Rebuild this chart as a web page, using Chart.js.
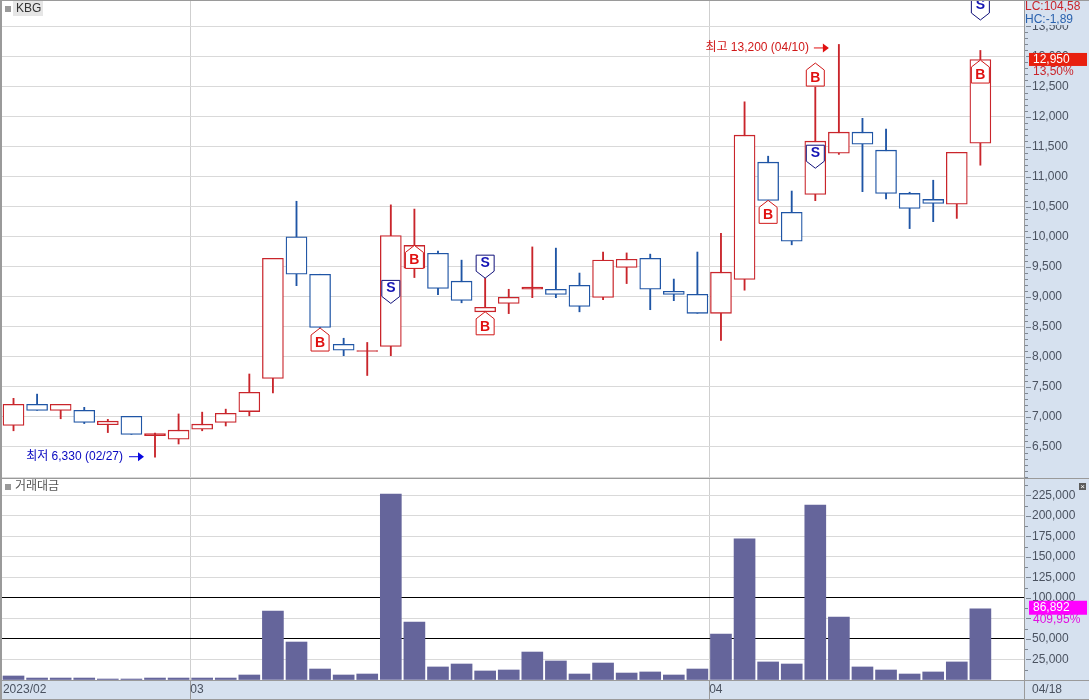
<!DOCTYPE html>
<html>
<head>
<meta charset="utf-8">
<title>KBG</title>
<script src="https://cdn.jsdelivr.net/npm/chart.js@4"></script>
<style>
html, body { margin: 0; padding: 0; background: #fff; overflow: hidden; }
#wrap { position: relative; width: 1089px; height: 700px; }
#priceChart { position: absolute; left: 0; top: 0; }
#volChart { position: absolute; left: 0; top: 478px; }
</style>
</head>
<body>
<div id="wrap">
  <canvas id="priceChart" width="1089" height="478"></canvas>
  <canvas id="volChart" width="1089" height="222"></canvas>
</div>
<script>
var dates = ['02/17','02/20','02/21','02/22','02/23','02/24','02/27','02/28',
  '03/02','03/03','03/06','03/07','03/08','03/09','03/10','03/13','03/14','03/15','03/16','03/17',
  '03/20','03/21','03/22','03/23','03/24','03/27','03/28','03/29','03/30','03/31',
  '04/03','04/04','04/05','04/06','04/07','04/10','04/11','04/12','04/13','04/14','04/17','04/18'];

var opens  = [6860,7210,7110,7110,6870,7010,6690,6630,6795,6910,7090,7640,10000,9375,8210,8090,8175,9475,9725,9260,8750,8890,
              9125,9125,9190,8990,9490,9640,9090,9040,8725,9290,11240,10405,10705,11390,11740,11440,10720,10620,10540,11555];
var closes = [7210,7110,7210,6910,6930,6710,6725,6780,6880,7060,7410,9640,9375,8490,8110,8105,10020,9855,9140,8940,8825,8990,
              9160,9040,8840,9610,9625,9125,9040,8725,9410,11690,10605,9925,11590,11740,11540,10720,10470,10555,11405,12950];
var highs  = [7310,7380,7210,7160,6960,7010,6730,7050,7080,7130,7715,9640,10590,9375,8310,8240,10530,10460,9760,9610,9310,9125,
              9830,9810,9395,9745,9730,9710,9295,9745,10055,12245,11340,10760,12490,13200,11970,11790,10740,10940,11405,13100];
var lows   = [6770,7110,6970,6890,6740,6710,6330,6550,6770,6850,7020,7400,9185,8490,8020,7690,8020,9320,9035,8900,8750,8720,
              8985,8985,8750,8950,9220,8785,8935,8725,8275,9110,10605,9865,10600,11370,10750,10630,10135,10250,10305,11190];
var volumes = [4900,2400,2400,2400,1200,1200,2400,2400,2400,2400,6100,84100,46300,13400,6100,7300,226800,70700,15900,19500,11000,12200,
               34100,23200,7300,20700,8500,9800,6100,13400,56100,172000,22000,19500,213400,76800,15900,12200,7300,9800,22000,86892];

var markerIdx   = [13,16,17,20,20,32,34,34,41,41];
var markerPrice = [8480,8890,9855,9310,8750,10605,12890,11140,12940,13607];
var markerType  = ['B','S','B','S','B','B','B','S','B','S'];

var monthStarts = [8, 30];
var monthLabels = ['2023/02', '03', '04'];

var UP = '#c9252b', DOWN = '#1f55a5', BAR = '#65659b';
var AXIS_BG = '#d6e1ef', AXIS_TEXT = '#4a5260', FRAME = '#9a9a9a', GRID = '#d9d9d9';
var FONT = '"Liberation Sans", "Noto Sans CJK KR", sans-serif';
var XMIN = -0.488, XMAX = 42.85;

function color(i) { return closes[i] >= opens[i] ? UP : DOWN; }
function fmt(v) { return String(v).replace(/\B(?=(\d{3})+$)/g, ','); }
function toXY(fn) { return dates.map(function (d, i) { return { x: i, y: fn(i) }; }); }

function frame(chart) {
  var c = chart.ctx, a = chart.chartArea;
  c.save();
  c.fillStyle = AXIS_BG;
  c.fillRect(0, 0, chart.width, chart.height);
  c.fillStyle = '#fff';
  c.fillRect(a.left, a.top, a.right - a.left, a.bottom - a.top);
  c.fillStyle = FRAME;
  c.fillRect(0, 0, 2, chart.height);
  c.fillRect(a.right, 0, 1, a.bottom);
  c.restore();
}

function axisMarks(chart, step) {
  var c = chart.ctx, y = chart.scales.y, r = chart.chartArea.right;
  c.save();
  c.fillStyle = '#7d8794';
  y.ticks.forEach(function (t) {
    var py = Math.round(y.getPixelForValue(t.value));
    if (py < chart.chartArea.top || py > chart.chartArea.bottom) return;
    if (t.value % step === 0 && t.label !== '') c.fillRect(r + 2, py, 5, 1);
    else c.fillRect(r + 1, py, 3, 1);
  });
  c.restore();
}

function label(c, text, x, y, col, font, align) {
  c.font = font || '12px ' + FONT;
  c.fillStyle = col;
  c.textAlign = align || 'left';
  c.textBaseline = 'middle';
  c.fillText(text, x, y);
}

function arrow(c, x0, x1, y, col) {
  c.fillStyle = col;
  c.fillRect(x0, y, x1 - x0 - 5, 1);
  c.beginPath();
  c.moveTo(x1 - 6, y - 4);
  c.lineTo(x1, y + 0.5);
  c.lineTo(x1 - 6, y + 5);
  c.closePath();
  c.fill();
}

function marker(c, x, tip, type) {
  var w = 9, h = 23, sh = 7, dir = type === 'B' ? 1 : -1;
  var line = type === 'B' ? '#d01818' : '#10107a';
  c.beginPath();
  c.moveTo(x, tip);
  c.lineTo(x + w, tip + dir * sh);
  c.lineTo(x + w, tip + dir * h);
  c.lineTo(x - w, tip + dir * h);
  c.lineTo(x - w, tip + dir * sh);
  c.closePath();
  c.fillStyle = '#fff';
  c.fill();
  c.lineWidth = 1;
  c.strokeStyle = line;
  c.stroke();
  label(c, type, x, tip + dir * 15, type === 'B' ? '#e01010' : '#1414b4', 'bold 14px ' + FONT, 'center');
}

var pricePlugin = {
  id: 'priceExtras',
  beforeDraw: frame,
  afterDatasetsDraw: function (chart) {
    var c = chart.ctx, x = chart.scales.x, y = chart.scales.y;
    c.save();
    markerIdx.forEach(function (idx, i) {
      marker(c, x.getPixelForValue(idx), y.getPixelForValue(markerPrice[i]), markerType[i]);
    });
    // low / high callouts
    var lo = lows.indexOf(Math.min.apply(null, lows)), hi = highs.indexOf(Math.max.apply(null, highs));
    var lx = x.getPixelForValue(lo) - 11, ly = y.getPixelForValue(lows[lo]) - 1;
    label(c, '최저 ' + fmt(lows[lo]) + ' (' + dates[lo] + ')', lx - 21, ly, '#0808c0', null, 'right');
    arrow(c, lx - 15, lx, ly, '#0808e0');
    var hx = x.getPixelForValue(hi) - 10, hy = y.getPixelForValue(highs[hi]) + 3;
    label(c, '최고 ' + fmt(highs[hi]) + ' (' + dates[hi] + ')', hx - 20, hy, '#d01818', null, 'right');
    arrow(c, hx - 15, hx, hy, '#e01010');
    // pane title
    c.fillStyle = '#e6e6e6';
    c.fillRect(13, 1, 30, 15);
    c.fillStyle = '#9a9a9a';
    c.fillRect(5, 6, 6, 6);
    label(c, 'KBG', 16, 9, '#333');
    c.restore();
  },
  afterDraw: function (chart) {
    var c = chart.ctx, y = chart.scales.y, r = chart.chartArea.right;
    axisMarks(chart, 500);
    c.save();
    c.fillStyle = AXIS_BG;
    c.fillRect(r + 1, 0, 64, 25);
    label(c, 'LC:104,58', r + 1, 7, '#c9252b');
    label(c, 'HC:-1,89', r + 1, 20, '#2a62ae');
    var py = y.getPixelForValue(closes[41]);
    c.fillStyle = AXIS_BG;
    c.fillRect(r + 8, py + 6, 50, 12);
    c.fillStyle = '#e8200f';
    c.fillRect(r + 5, py - 6.5, 58, 13);
    label(c, fmt(closes[41]), r + 9, py, '#fff');
    label(c, '13,50%', r + 9, py + 12, '#c9252b');
    c.fillStyle = FRAME;
    c.fillRect(0, 0, chart.width, 1);
    c.restore();
  }
};

var volPlugin = {
  id: 'volExtras',
  beforeDraw: frame,
  afterDraw: function (chart) {
    var c = chart.ctx, y = chart.scales.y, a = chart.chartArea;
    axisMarks(chart, 25000);
    c.save();
    var py = y.getPixelForValue(volumes[41]) - 1;
    c.fillStyle = AXIS_BG;
    c.fillRect(a.right + 8, py + 6, 50, 13);
    c.fillStyle = '#ff00ff';
    c.fillRect(a.right + 5, py - 7, 58, 14);
    label(c, fmt(volumes[41]), a.right + 9, py, '#fff');
    label(c, '409,95%', a.right + 9, py + 12, '#e010e0');
    c.fillStyle = '#5c5c5c';
    c.fillRect(1079, 5, 7, 7);
    label(c, '×', 1082.5, 8.5, '#fff', '8px ' + FONT, 'center');
    c.fillStyle = '#9a9a9a';
    c.fillRect(5, 6, 6, 6);
    label(c, '거래대금', 15, 9, '#555');
    label(c, dates[41], a.right + 8, a.bottom + 10, AXIS_TEXT);
    c.fillStyle = FRAME;
    c.fillRect(0, 0, chart.width, 1);
    c.fillRect(0, a.bottom, chart.width, 1);
    c.fillRect(0, chart.height - 1, chart.width, 1);
    c.fillRect(a.right, a.bottom, 1, chart.height - a.bottom);
    c.restore();
  }
};

function monthTicks(scale) {
  scale.ticks = [XMIN + 0.04].concat(monthStarts.map(function (m) { return m - 0.5; })).map(function (v) { return { value: v }; });
}

function noPad(s) {
  s.paddingTop = 0; s.paddingBottom = 0; s.paddingLeft = 0; s.paddingRight = 0;
}

function yAxis(min, max, step, majorStep, first, last, gridColor) {
  return {
    position: 'right', min: min, max: max,
    border: { display: false },
    grid: { color: gridColor, drawTicks: false },
    // stepSize gets bent to fit min/max on big ranges, so lay the ticks out here
    afterBuildTicks: function (s) {
      var t = [];
      for (var v = Math.ceil(min / step) * step; v <= max; v += step) t.push({ value: v });
      s.ticks = t;
    },
    afterFit: function (s) { s.width = 65; noPad(s); },
    ticks: {
      autoSkip: false, padding: 8,
      color: AXIS_TEXT, font: { family: FONT, size: 12 },
      callback: function (v) { return (v % majorStep === 0 && v >= first && v <= last) ? fmt(v) : ''; }
    }
  };
}

Chart.defaults.animation = false;

new Chart(document.getElementById('priceChart'), {
  type: 'bar',
  data: {
    datasets: [
      {
        label: 'wick', order: 2, barThickness: 1.2, grouped: false,
        data: toXY(function (i) { return [lows[i], highs[i]]; }),
        backgroundColor: dates.map(function (d, i) { return color(i); })
      },
      {
        label: 'body', order: 1, barThickness: 21, grouped: false, borderWidth: 1.3, borderSkipped: false,
        data: toXY(function (i) { return [opens[i], closes[i]]; }),
        // very thin bodies have no room for a white inside
        backgroundColor: dates.map(function (d, i) { return Math.abs(closes[i] - opens[i]) < 40 ? color(i) : '#fff'; }),
        borderColor: dates.map(function (d, i) { return color(i); })
      }
    ]
  },
  options: {
    responsive: false,
    layout: { padding: { left: 2, top: 1 } },
    plugins: { legend: { display: false }, tooltip: { enabled: false } },
    scales: {
      x: {
        type: 'linear', min: XMIN, max: XMAX, offset: false,
        afterBuildTicks: monthTicks,
        afterFit: function (s) { s.height = 0; noPad(s); },
        border: { display: false },
        grid: { offset: false, color: function (ctx) { return ctx.index === 0 ? 'rgba(0,0,0,0)' : '#cfcfcf'; }, drawTicks: false },
        ticks: { display: false }
      },
      y: yAxis(5984, 13923, 100, 500, 6500, 13500, function (ctx) {
        return ctx.tick.value % 500 === 0 ? GRID : 'rgba(0,0,0,0)';
      })
    }
  },
  plugins: [pricePlugin]
});

new Chart(document.getElementById('volChart'), {
  type: 'bar',
  data: {
    datasets: [{
      label: '거래대금', barThickness: 21,
      data: toXY(function (i) { return volumes[i]; }),
      backgroundColor: BAR
    }]
  },
  options: {
    responsive: false,
    layout: { padding: { left: 2 } },
    plugins: { legend: { display: false }, tooltip: { enabled: false } },
    scales: {
      x: {
        type: 'linear', min: XMIN, max: XMAX, offset: false,
        afterBuildTicks: monthTicks,
        afterFit: function (s) { s.height = 20; noPad(s); },
        border: { display: false },
        grid: {
          offset: false,
          color: function (ctx) { return ctx.index === 0 ? 'rgba(0,0,0,0)' : '#cfcfcf'; },
          tickColor: function (ctx) { return ctx.index === 0 ? 'rgba(0,0,0,0)' : '#9a9a9a'; },
          tickLength: 19
        },
        ticks: {
          autoSkip: false, maxRotation: 0, align: 'start', padding: -17,
          color: AXIS_TEXT, font: { family: FONT, size: 12 },
          callback: function (v, i) { return monthLabels[i]; }
        }
      },
      y: yAxis(0, 246300, 12500, 25000, 25000, 225000, function (ctx) {
        var v = ctx.tick.value;
        if (v === 50000 || v === 100000) return '#000';
        return v % 25000 === 0 ? GRID : 'rgba(0,0,0,0)';
      })
    }
  },
  plugins: [volPlugin]
});
</script>
</body>
</html>
